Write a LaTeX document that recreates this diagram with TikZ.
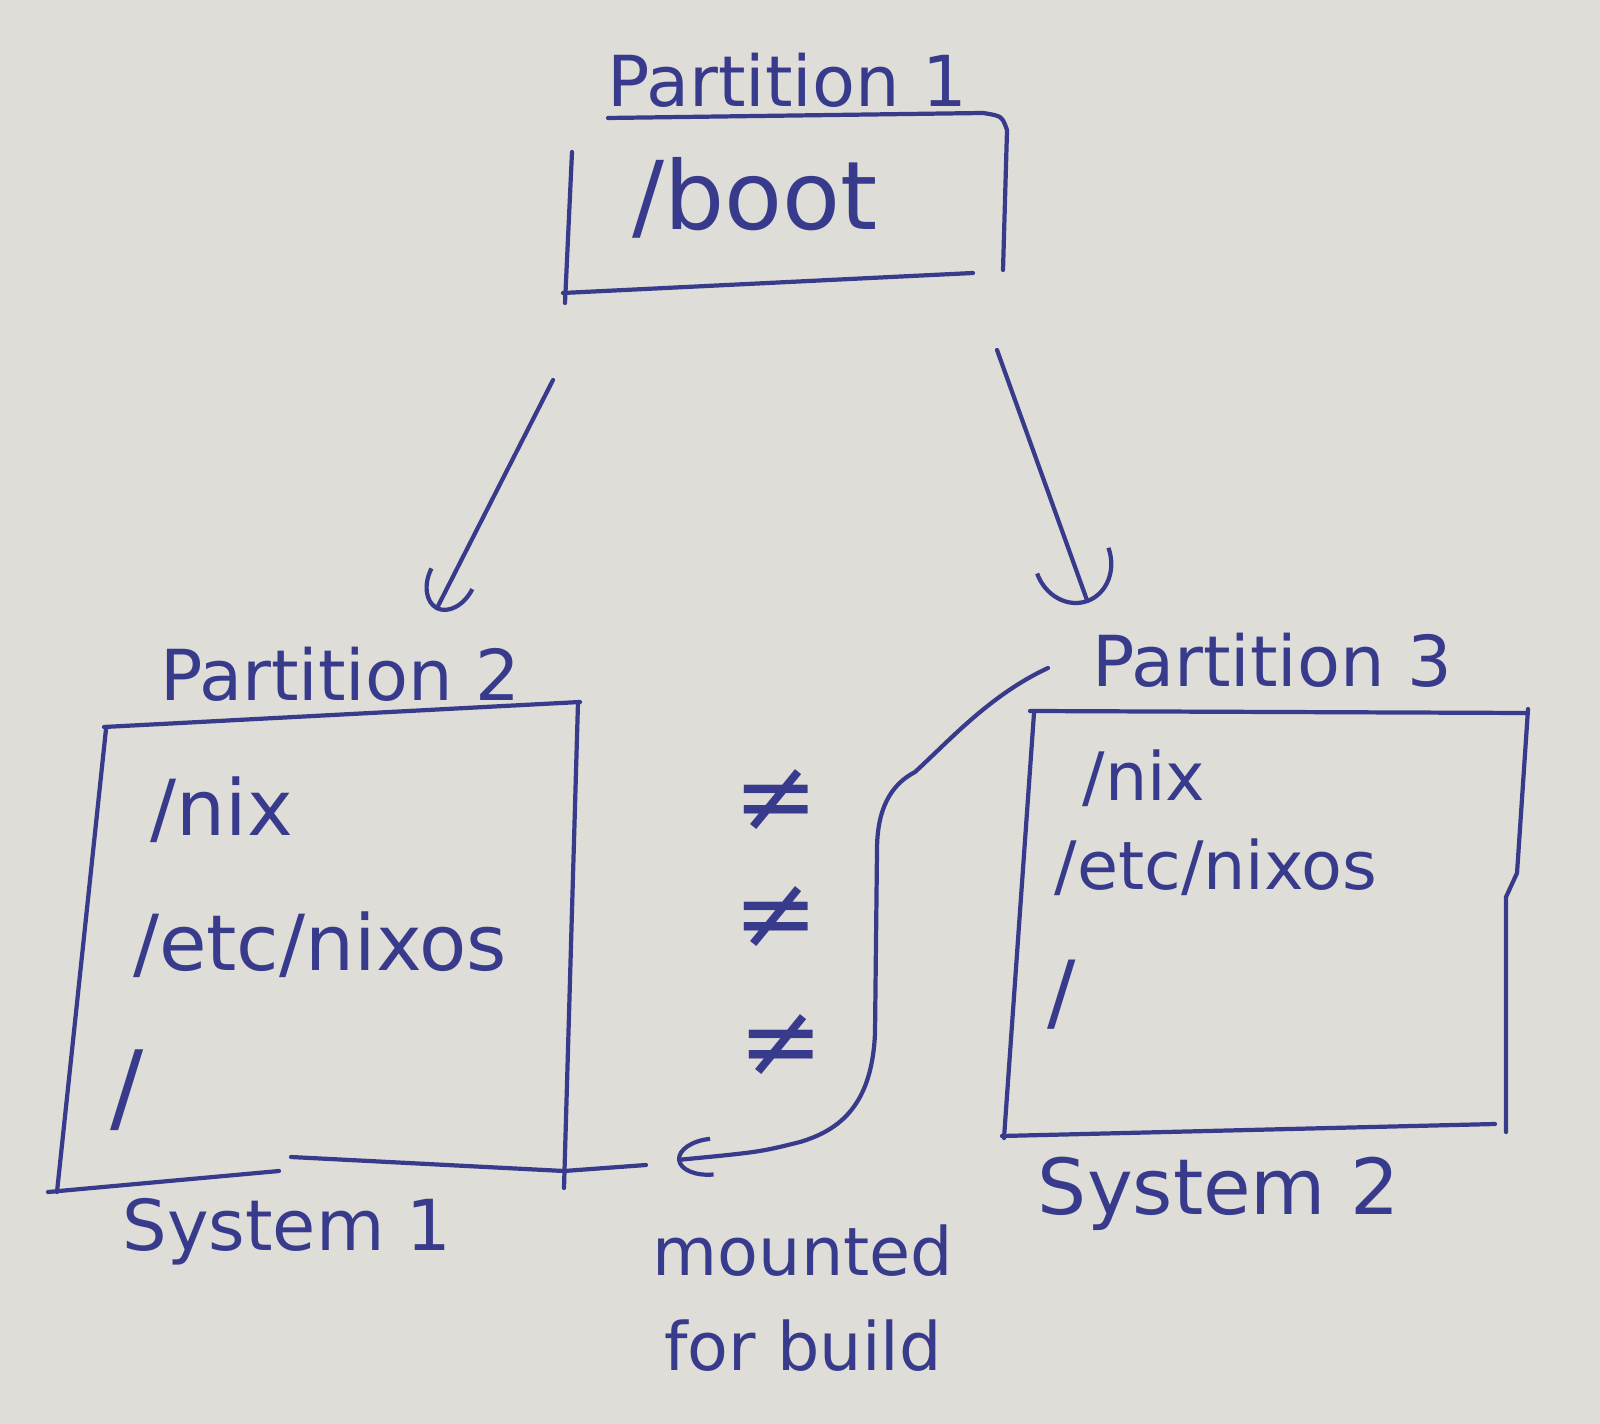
\documentclass[tikz,border=0pt]{standalone}
\usepackage{fontspec}
\setmainfont{DejaVu Sans}
\usetikzlibrary{arrows.meta,positioning}
\definecolor{paper}{HTML}{DFDDD7}
\definecolor{pen}{HTML}{383B8C}
\tikzset{
  ink/.style={draw=pen, line width=1.2pt, line cap=round, line join=round},
  parttext/.style={text=pen, inner sep=0pt, font=\fontsize{20}{24}\selectfont},
  dirtext/.style={text=pen, inner sep=0pt, font=\fontsize{22}{26}\selectfont},
  neqtext/.style={text=pen, inner sep=0pt, font=\fontsize{29}{30}\selectfont}
}

\begin{document}
\begin{tikzpicture}
    \useasboundingbox[fill=paper] (0,0) rectangle (16,-14.24);

    % Partition 1
    \node[parttext] (part1) at (7.87,-0.80) {Partition 1};
    \draw[ink] (6.08,-1.18) -- (9.83,-1.13) .. controls (10.02,-1.16) .. (10.07,-1.30) -- (10.03,-2.70);
    \draw[ink] (5.72,-1.52) -- (5.65,-3.03);
    \draw[ink] (5.63,-2.93) -- (9.73,-2.73);
    \node[dirtext, font=\fontsize{27}{30}\selectfont] (boot) at (7.55,-1.98) {/boot};

    % Partition 2 (System 1)
    \node[parttext] (part2) at (3.40,-6.74) {Partition 2};
    \draw[ink] (1.04,-7.27) -- (5.80,-7.02);
    \draw[ink] (1.06,-7.29) -- (0.57,-11.92);
    \draw[ink] (5.78,-7.02) -- (5.64,-11.88);
    \draw[ink] (0.48,-11.92) -- (2.79,-11.71);
    \draw[ink] (2.91,-11.57) -- (5.64,-11.71) -- (6.46,-11.65);
    \node[dirtext] (nixa) at (2.22,-8.10) {/nix};
    \node[dirtext] (etca) at (3.20,-9.45) {/etc/nixos};
    \node[dirtext, font=\fontsize{28}{30}\selectfont] (roota) at (1.27,-10.90) {/};
    \node[parttext] (sys1) at (2.87,-12.32) {System 1};

    % Partition 3 (System 2)
    \node[parttext] (part3) at (12.72,-6.60) {Partition 3};
    \draw[ink] (10.30,-7.11) -- (15.28,-7.13);
    \draw[ink] (15.28,-7.09) -- (15.17,-8.73) -- (15.06,-8.97) -- (15.06,-11.32);
    \draw[ink] (10.02,-11.36) -- (14.95,-11.24);
    \draw[ink] (10.34,-7.13) -- (10.04,-11.38);
    \node[dirtext, font=\fontsize{19}{22}\selectfont] (nixb) at (11.44,-7.78) {/nix};
    \node[dirtext, font=\fontsize{19}{22}\selectfont] (etcb) at (12.16,-8.67) {/etc/nixos};
    \node[dirtext, font=\fontsize{24}{26}\selectfont] (rootb) at (10.62,-9.95) {/};
    \node[parttext, font=\fontsize{22}{26}\selectfont] (sys2) at (12.19,-11.94) {System 2};

    % not equal
    \node[neqtext] (neqa) at (7.76,-8.01) {≠};
    \node[neqtext] (neqb) at (7.76,-9.18) {≠};
    \node[neqtext] (neqc) at (7.81,-10.46) {≠};

    \node[parttext, font=\fontsize{19}{27}\selectfont, align=center] (mnt) at (8.03,-12.98) {mounted\\for build};

    % boot arrows
    \coordinate (bootl) at (5.53,-3.80);
    \coordinate (bootr) at (9.97,-3.50);
    \coordinate (p2in) at (4.36,-6.10);
    \coordinate (p3in) at (10.88,-6.03);
    \draw[ink, -{Arc Barb[width=5mm,length=3.5mm]}] (bootl) -- (p2in);
    \draw[ink, -{Arc Barb[width=8mm,length=4.5mm]}] (bootr) -- (p3in);

    % mounted for build
    \coordinate (mntsrc) at (10.48,-6.68);
    \coordinate (mnttip) at (6.77,-11.60);
    \draw[ink, -{Arc Barb[width=4mm,length=3.5mm]}] (mntsrc) .. controls (9.9,-6.95) and (9.5,-7.4) .. (9.15,-7.72)
        .. controls (8.9,-7.85) and (8.77,-8.1) .. (8.77,-8.5) -- (8.75,-10.33)
        .. controls (8.72,-11.05) and (8.4,-11.3) .. (8.0,-11.42) .. controls (7.6,-11.52) .. (mnttip);
\end{tikzpicture}
\end{document}
